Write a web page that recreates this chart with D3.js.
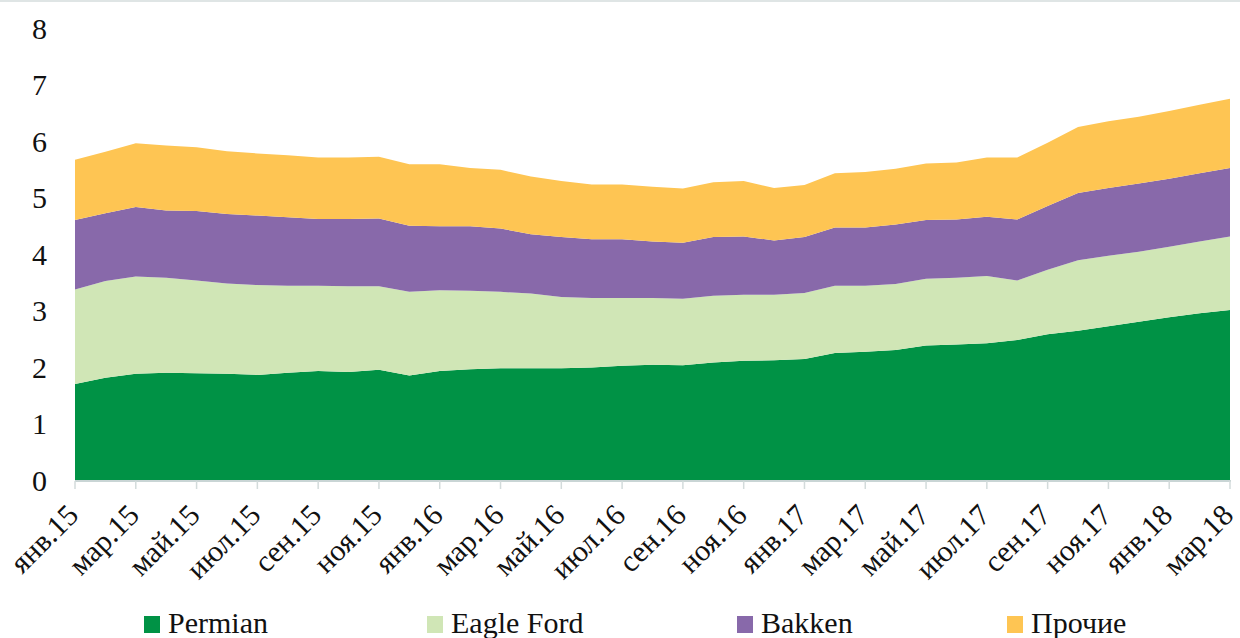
<!DOCTYPE html>
<html>
<head>
<meta charset="utf-8">
<script src="https://cdn.jsdelivr.net/npm/d3@7"></script>
<style>
  body { margin: 0; background: #fff; }
  svg { display: block; }
  text { font-family: "Liberation Serif", "DejaVu Serif", serif; fill: #111; }
</style>
</head>
<body>
<svg id="chart" width="1240" height="638"></svg>
<script>
// месяцы янв.15 - мар.18
const monthNames = ["янв", "фев", "мар", "апр", "май", "июн", "июл", "авг", "сен", "окт", "ноя", "дек"];
const months = [];
for (let y = 15; y <= 18; y++) {
    for (let m = 0; m < 12; m++) {
        if (y === 18 && m > 2) break;
        months.push(monthNames[m] + "." + y);
    }
}

const seriesNames = ["Permian", "Eagle Ford", "Bakken", "Прочие"];
const colors = ["#009245", "#d0e6b6", "#8869aa", "#fec553"];

const permian = [1.70, 1.81, 1.88, 1.90, 1.89, 1.88, 1.86, 1.90, 1.93, 1.91, 1.95, 1.85, 1.93,
    1.96, 1.98, 1.98, 1.98, 1.99, 2.02, 2.04, 2.03, 2.08, 2.11, 2.12, 2.14, 2.25,
    2.27, 2.30, 2.38, 2.40, 2.42, 2.48, 2.58, 2.64, 2.72, 2.80, 2.88, 2.95, 3.01];
const eagleFord = [1.67, 1.71, 1.72, 1.68, 1.64, 1.60, 1.59, 1.54, 1.51, 1.52, 1.48, 1.48, 1.43,
    1.39, 1.35, 1.32, 1.26, 1.23, 1.20, 1.18, 1.18, 1.18, 1.17, 1.16, 1.17, 1.19,
    1.17, 1.17, 1.18, 1.18, 1.19, 1.05, 1.14, 1.25, 1.25, 1.24, 1.25, 1.27, 1.30];
const bakken = [1.23, 1.20, 1.23, 1.19, 1.23, 1.23, 1.23, 1.21, 1.18, 1.19, 1.20, 1.17, 1.13,
    1.14, 1.12, 1.05, 1.06, 1.04, 1.04, 1.00, 0.99, 1.04, 1.03, 0.96, 0.99, 1.03,
    1.03, 1.05, 1.04, 1.03, 1.05, 1.08, 1.13, 1.19, 1.20, 1.21, 1.20, 1.21, 1.21];
const other = [1.07, 1.09, 1.13, 1.15, 1.13, 1.11, 1.10, 1.10, 1.09, 1.09, 1.09, 1.09, 1.10,
    1.03, 1.04, 1.02, 0.99, 0.97, 0.97, 0.97, 0.96, 0.97, 0.98, 0.93, 0.92, 0.96,
    0.98, 0.99, 1.00, 1.01, 1.05, 1.10, 1.12, 1.17, 1.18, 1.18, 1.20, 1.21, 1.23];

const yTicks = [0, 1, 2, 3, 4, 5, 6, 7, 8];

let rows = months.map((m, i) => ({
    month: m,
    "Permian": permian[i],
    "Eagle Ford": eagleFord[i],
    "Bakken": bakken[i],
    "Прочие": other[i]
}));

const svg = d3.select("#chart");

let x = d3.scalePoint().domain(months).range([75, 1230]);
let y = d3.scaleLinear().domain([0, 8]).range([480, 28]);

// рамка сверху
svg.append("line")
    .attr("x1", 0).attr("x2", 1240)
    .attr("y1", 1).attr("y2", 1)
    .style("stroke", "#dfe5e5")
    .style("stroke-width", 2);

let stack = d3.stack().keys(seriesNames);
let layers = stack(rows);

let area = d3.area()
    .x((d) => x(d.data.month))
    .y0((d) => y(d[0]))
    .y1((d) => y(d[1]));

svg.selectAll(".layer")
    .data(layers)
    .enter()
    .append("path")
    .attr("class", "layer")
    .attr("d", area)
    .style("fill", (d, i) => colors[i]);

// ось Y
svg.selectAll(".yLabel")
    .data(yTicks)
    .enter()
    .append("text")
    .attr("class", "yLabel")
    .attr("x", 47)
    .attr("y", (d) => y(d))
    .attr("dy", "0.35em")
    .attr("text-anchor", "end")
    .style("font-size", "30px")
    .text((d) => d);

// ось X
let xTickMonths = months.filter((m, i) => i % 2 === 0);

svg.append("line")
    .attr("x1", 75).attr("x2", 1231)
    .attr("y1", 481).attr("y2", 481)
    .style("stroke", "#c9d5d5")
    .style("stroke-width", 2);

svg.selectAll(".xTick")
    .data(xTickMonths)
    .enter()
    .append("line")
    .attr("class", "xTick")
    .attr("x1", (d) => x(d)).attr("x2", (d) => x(d))
    .attr("y1", 481).attr("y2", 489)
    .style("stroke", "#d3dbdb")
    .style("stroke-width", 1.5);

svg.selectAll(".xLabel")
    .data(xTickMonths)
    .enter()
    .append("text")
    .attr("class", "xLabel")
    .attr("text-anchor", "end")
    .attr("transform", (d) => `translate(${x(d) + 5}, 517) rotate(-45)`)
    .style("font-size", "30px")
    .text((d) => d);

// легенда
const legendX = [144, 427, 737, 1007];

let legend = svg.selectAll(".legend")
    .data(seriesNames)
    .enter()
    .append("g")
    .attr("class", "legend")
    .attr("transform", (d, i) => `translate(${legendX[i]}, 616)`);

legend.append("rect")
    .attr("width", 16)
    .attr("height", 17)
    .style("fill", (d, i) => colors[i]);

legend.append("text")
    .attr("x", 24)
    .attr("y", 17)
    .style("font-size", "30px")
    .text((d) => d);
</script>
</body>
</html>
